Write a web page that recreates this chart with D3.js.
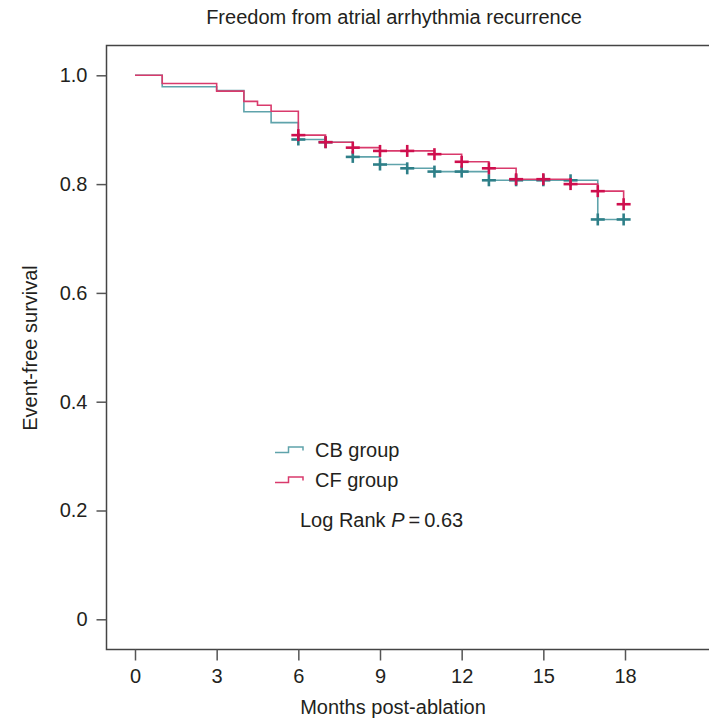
<!DOCTYPE html>

<html>

<head>
    <title>Freedom from atrial arrhythmia recurrence</title>

    <style type="text/css">
        body {
            margin: 0;
            background: #fff;
        }
        svg text {
            font-family: "Liberation Sans", Arial, sans-serif;
            font-size: 20px;
            fill: #231f20;
        }
        .axis line {
            stroke: #555;
            stroke-width: 1.5;
        }
        .frame {
            fill: none;
            stroke: #444;
            stroke-width: 1.5;
        }
    </style>
</head>

<body>

    <script src="https://d3js.org/d3.v7.min.js" type="text/javascript"></script>
    <script type="text/javascript">

        // step times (months) and survival after each step
        var cbTimes = [0, 1, 3, 4, 5, 6, 7, 8, 9, 10, 11, 13, 17, 17.95];
        var cbSurv = [1.0, 0.979, 0.972, 0.933, 0.913, 0.882, 0.877, 0.850, 0.836, 0.829, 0.823, 0.807, 0.735, 0.735];
        var cbCensor = [6, 7, 8, 9, 10, 11, 12, 13, 14, 15, 16, 17, 17.95];

        var cfTimes = [0, 1, 3, 4, 4.5, 5, 6, 7, 8, 9, 11, 12, 13, 14, 16, 17, 17.95];
        var cfSurv = [1.0, 0.985, 0.971, 0.952, 0.945, 0.934, 0.890, 0.877, 0.867, 0.861, 0.855, 0.841, 0.829, 0.809, 0.800, 0.787, 0.763];
        var cfCensor = [6, 7, 8, 9, 10, 11, 12, 13, 14, 15, 16, 17, 17.95];

        var xTicks = [0, 3, 6, 9, 12, 15, 18];
        var yTicks = [0, 0.2, 0.4, 0.6, 0.8, 1.0];

        var groups = [
            { name: 'CB group', times: cbTimes, surv: cbSurv, censor: cbCensor, line: '#5fa3ab', mark: '#2e7f88' },
            { name: 'CF group', times: cfTimes, surv: cfSurv, censor: cfCensor, line: '#d93a6c', mark: '#cf0f4e' }
        ];

        var W = 709, H = 719;
        // note: "top" is taken by window.top, so use other names
        var plotLeft = 106.5, plotTop = 45.5, plotBottom = 649.5;

        var svg = d3.select('body').append('svg')
            .attr('width', W)
            .attr('height', H);

        var x = d3.scaleLinear().domain([0, 18]).range([135, 625]);
        var y = d3.scaleLinear().domain([0, 1]).range([619.3, 75.3]);

        svg.append('text')
            .attr('x', 394).attr('y', 24)
            .attr('text-anchor', 'middle')
            .text('Freedom from atrial arrhythmia recurrence');

        svg.append('rect')
            .attr('class', 'frame')
            .attr('x', plotLeft).attr('y', plotTop)
            .attr('width', W + 20 - plotLeft).attr('height', plotBottom - plotTop);

        var yAxis = svg.append('g')
            .attr('class', 'axis')
            .attr('transform', 'translate(' + plotLeft + ',0)')
            .call(d3.axisLeft(y).tickValues(yTicks).tickSize(10).tickPadding(9)
                .tickFormat(function (d) { return d === 0 ? '0' : d3.format('.1f')(d); }));
        yAxis.select('.domain').remove();

        var xAxis = svg.append('g')
            .attr('class', 'axis')
            .attr('transform', 'translate(0,' + plotBottom + ')')
            .call(d3.axisBottom(x).tickValues(xTicks).tickSize(11).tickPadding(8));
        xAxis.select('.domain').remove();
        svg.selectAll('.axis text')
            .style('font-size', '20px')
            .style('font-family', '"Liberation Sans", Arial, sans-serif')
            .attr('fill', '#231f20');

        svg.append('text')
            .attr('x', 393).attr('y', 714)
            .attr('text-anchor', 'middle')
            .text('Months post-ablation');

        svg.append('text')
            .attr('transform', 'translate(37,348) rotate(-90)')
            .attr('text-anchor', 'middle')
            .text('Event-free survival');

        // survival value at time t for a group
        function survAt(g, t) {
            var v = g.surv[0];
            for (var i = 0; i < g.times.length; i++) {
                if (g.times[i] <= t) v = g.surv[i];
            }
            return v;
        }

        groups.forEach(function (g) {
            var pts = g.times.map(function (t, i) { return [t, g.surv[i]]; });
            var line = d3.line()
                .x(function (d) { return x(d[0]); })
                .y(function (d) { return y(d[1]); })
                .curve(d3.curveStepAfter);
            svg.append('path')
                .attr('d', line(pts))
                .attr('fill', 'none')
                .attr('stroke', g.line)
                .attr('stroke-width', 1.6);

            var marks = svg.append('g').selectAll('g')
                .data(g.censor)
                .enter().append('g')
                .attr('transform', function (d) {
                    return 'translate(' + x(d) + ',' + y(survAt(g, d)) + ')';
                });
            marks.append('line')
                .attr('x1', -7).attr('x2', 7)
                .attr('stroke', g.mark).attr('stroke-width', 2.6);
            marks.append('line')
                .attr('y1', -6).attr('y2', 6)
                .attr('stroke', g.mark).attr('stroke-width', 2.6);
        });

        // legend
        var legend = svg.append('g');
        groups.forEach(function (g, i) {
            var ly = 452.5 + i * 30;
            legend.append('path')
                .attr('d', 'M275,' + ly + 'H288.5V' + (ly - 5.5) + 'H303V' + (ly - 2))
                .attr('fill', 'none')
                .attr('stroke', g.line)
                .attr('stroke-width', 1.5);
            legend.append('text')
                .attr('x', 315).attr('y', ly + 4.5)
                .text(g.name);
        });

        var lr = legend.append('text')
            .attr('x', 300).attr('y', 527);
        lr.append('tspan').text('Log Rank ');
        lr.append('tspan').attr('font-style', 'italic').text('P');
        lr.append('tspan').text('\u2009=\u20090.63');
    </script>

</body>

</html>
